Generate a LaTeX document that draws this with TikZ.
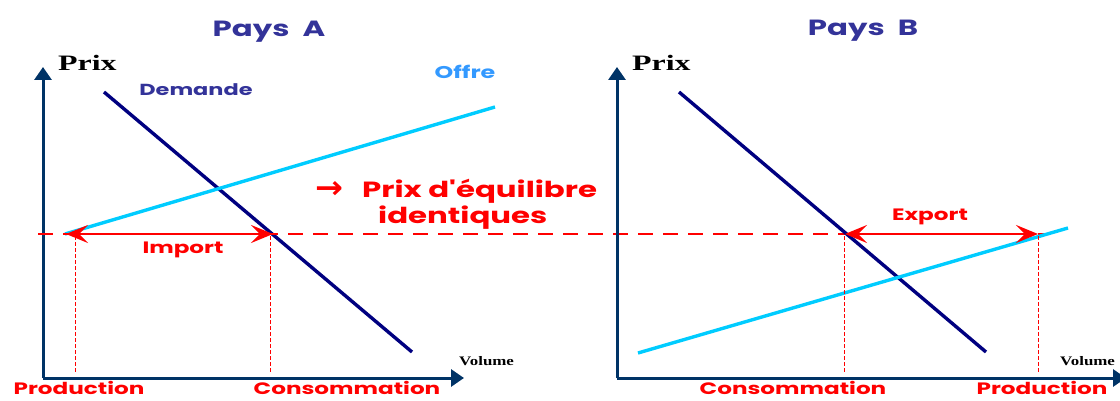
\documentclass[tikz,border=0pt]{standalone}
\usepackage{graphicx}
\usepackage{fontspec}
\setmainfont{Liberation Serif}
\newfontfamily\comic{Poppins}[FakeStretch=1.4]
\newfontfamily\prixfont{Liberation Serif}[FakeStretch=1.45]
\newfontfamily\volfont{Liberation Serif}[FakeStretch=1.3]
\newfontfamily\arrowfont{DejaVu Sans}
\usetikzlibrary{arrows.meta}
\definecolor{axisblue}{HTML}{003366}
\definecolor{navy}{HTML}{000080}
\definecolor{cyanl}{HTML}{00CCFF}
\definecolor{titleblue}{HTML}{333399}
\definecolor{offreblue}{HTML}{3399FF}
\definecolor{redc}{HTML}{FF0000}
\begin{document}
\begin{tikzpicture}[x=1pt,y=-1pt,
  axis/.style={draw=axisblue,line width=3pt,-{Triangle[length=13pt,width=17pt]}},
  demand/.style={draw=navy,line width=3.4pt},
  supply/.style={draw=cyanl,line width=3.4pt},
  flow/.style={draw=redc,line width=2.8pt,{Stealth[length=22pt,width=18pt,inset=9pt]}-{Stealth[length=22pt,width=18pt,inset=9pt]}},
  guide/.style={draw=redc,line width=1pt,dash pattern=on 4pt off 2pt},
  eqline/.style={draw=redc,line width=2.6pt,dash pattern=on 15pt off 10pt},
  title/.style={font=\comic\bfseries\fontsize{22}{24}\selectfont,text=titleblue,inner sep=0pt,anchor=base},
  redlab/.style={font=\comic\bfseries\fontsize{16.5}{18}\selectfont,text=redc,inner sep=0pt,anchor=base},
  eqlab/.style={font=\comic\bfseries\fontsize{22}{24}\selectfont,text=redc,inner sep=0pt,anchor=base west},
  axlab/.style={font=\prixfont\bfseries\fontsize{22}{24}\selectfont,inner sep=0pt,anchor=base west},
  vollab/.style={font=\volfont\bfseries\fontsize{13}{15}\selectfont,inner sep=0pt,anchor=base west}]
\useasboundingbox (0,0) rectangle (1120,401);

% ---------- Pays A ----------
\node[title] (tA) at (269,37) {Pays\ \ A};
\coordinate (oA) at (43,378);
\coordinate (yA) at (43,67);
\coordinate (xA) at (464,378);
\draw[axis] (oA) -- (yA);
\draw[axis] (oA) -- (xA);
\node[axlab] (pA) at (58,71) {Prix};
\node[vollab] (vA) at (459,365) {Volume};

\coordinate (dA1) at (104,92);
\coordinate (dA2) at (412,352);
\draw[demand] (dA1) -- (dA2);
\coordinate (sA1) at (65,234);
\coordinate (sA2) at (495,107);
\draw[supply] (sA1) -- (sA2);
\node[font=\comic\bfseries\fontsize{16}{18}\selectfont,text=titleblue,inner sep=0pt,anchor=base] (demA) at (196,96) {Demande};
\node[font=\comic\bfseries\fontsize{17}{19}\selectfont,text=offreblue,inner sep=0pt,anchor=base] (offA) at (465,79) {Offre};

% ---------- equilibrium line ----------
\coordinate (eqL) at (38,234);
\coordinate (eqR) at (1048,234);
\draw[eqline] (eqL) -- (eqR);

\coordinate (impL) at (66,234);
\coordinate (impR) at (273,234);
\draw[flow] (impL) -- (impR);
\node[redlab] (imp) at (183,254) {Import};
\coordinate (gA1t) at (75,236);
\coordinate (gA1b) at (75,372);
\coordinate (gA2t) at (270,236);
\coordinate (gA2b) at (270,372);
\draw[guide] (gA1t) -- (gA1b);
\draw[guide] (gA2t) -- (gA2b);
\node[redlab] (prodA) at (79,394) {Production};
\node[redlab] (consA) at (347,394) {Consommation};

\node[text=redc,inner sep=0pt] (arr) at (329,190) {\resizebox{28pt}{17pt}{\arrowfont\bfseries →}};
\node[eqlab] (eq1) at (362,198) {Prix d'équilibre};
\node[eqlab] (eq2) at (378,223) {identiques};

% ---------- Pays B ----------
\node[title] (tB) at (863,36) {Pays\ \ B};
\coordinate (oB) at (617,378);
\coordinate (yB) at (617,67);
\coordinate (xB) at (1126,378);
\draw[axis] (oB) -- (yB);
\draw[axis] (oB) -- (xB);
\node[axlab] (pB) at (632,71) {Prix};
\node[vollab] (vB) at (1060,365) {Volume};

\coordinate (dB1) at (679,92);
\coordinate (dB2) at (986,352);
\draw[demand] (dB1) -- (dB2);
\coordinate (sB1) at (638,353);
\coordinate (sB2) at (1068,228);
\draw[supply] (sB1) -- (sB2);

\coordinate (expL) at (845,234);
\coordinate (expR) at (1038,234);
\draw[flow] (expL) -- (expR);
\node[redlab] (exp) at (930,221) {Export};
\coordinate (gB1t) at (844,236);
\coordinate (gB1b) at (844,372);
\coordinate (gB2t) at (1038,236);
\coordinate (gB2b) at (1038,372);
\draw[guide] (gB1t) -- (gB1b);
\draw[guide] (gB2t) -- (gB2b);
\node[redlab] (consB) at (793,394) {Consommation};
\node[redlab] (prodB) at (1042,394) {Production};
\end{tikzpicture}
\end{document}
